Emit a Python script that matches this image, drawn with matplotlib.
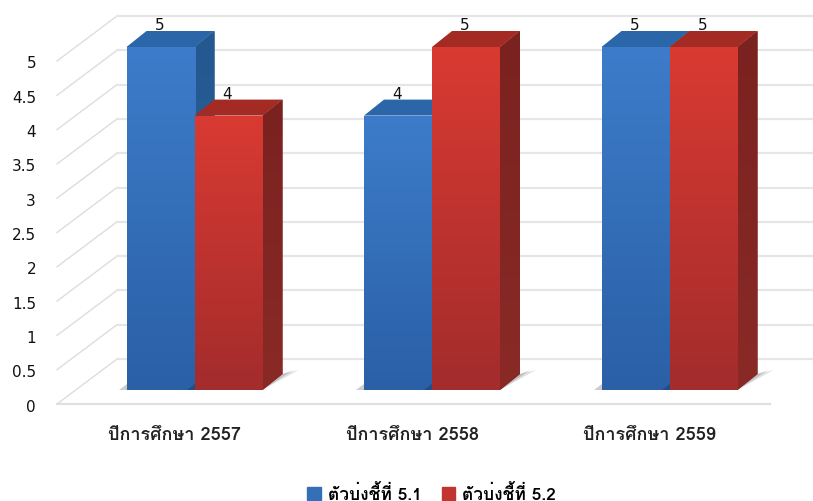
import matplotlib
matplotlib.use("Agg")
import numpy as np
import matplotlib.pyplot as plt
from matplotlib import font_manager as fm
from matplotlib.patches import Polygon, Patch
from matplotlib.colors import LinearSegmentedColormap

years = ["ปีการศึกษา 2557", "ปีการศึกษา 2558", "ปีการศึกษา 2559"]
series_names = ["ตัวบ่งชี้ที่ 5.1", "ตัวบ่งชี้ที่ 5.2"]
values_51 = [5, 4, 5]
values_52 = [4, 5, 5]
y_ticks = [0, 0.5, 1, 1.5, 2, 2.5, 3, 3.5, 4, 4.5, 5]
y_tick_labels = ["0", "0.5", "1", "1.5", "2", "2.5", "3", "3.5", "4", "4.5", "5"]

# pick a font holding Thai glyphs when there is one
thai = None
for f in fm.fontManager.ttflist:
    try:
        if 0x0E01 in fm.get_font(f.fname).get_charmap():
            thai = f.name
            break
    except Exception:
        pass
families = ([thai] if thai else []) + ["DejaVu Sans"]
plt.rcParams["font.family"] = families

W, H = 813, 501
fig = plt.figure(figsize=(W / 100, H / 100), dpi=100)
ax = fig.add_axes([0, 0, 1, 1])
px_x = 237.5   # pixels per category
px_y = 68.6    # pixels per value unit
x0_px, y0_px = 194.5, 359.0
xlim = (-x0_px / px_x, (W - x0_px) / px_x)
ylim = ((y0_px - H) / px_y, y0_px / px_y)

dx = 20 / px_x      # bar depth
dy = 16 / px_y
bw = 68 / px_x      # bar width
base = -31 / px_y   # bar foot relative to the back wall
fx = 60 / px_x      # wall-to-front shift of the chart floor
fy = 45 / px_y
left_wall = (117 - x0_px) / px_x
right_wall = (812 - x0_px) / px_x

# gridlines on wall and side
for v in y_ticks:
    ax.plot([left_wall - fx, left_wall], [v - fy, v], color="#dddddd", lw=1.0, zorder=1)
    ax.plot([left_wall, right_wall], [v, v], color="#e6e6e6", lw=1.6, zorder=1)
ax.plot([left_wall - fx, (770 - x0_px) / px_x], [-fy, -fy], color="#e0e0e0", lw=1.6, zorder=1)

for v, lab in zip(y_ticks, y_tick_labels):
    ax.text((36 - x0_px) / px_x, v - fy - 3 / px_y, lab, ha="right", va="center",
            fontsize=11, color="#111111", family="DejaVu Sans")


def bar3d(xc, v, top_c, bot_c, side_c, side_dark, lid_c, z):
    l, r = xc - bw / 2, xc + bw / 2
    b, t = base, base + v
    # soft floor shadow, built from nested shapes
    for k, a in zip([1.0, 0.85, 0.7, 0.55], [0.12, 0.15, 0.18, 0.2]):
        ax.add_patch(Polygon([(r, b), (r + k * 36 / px_x, b + 20 / px_y), (r + dx, b + dy)],
                             closed=True, fc="#000000", alpha=a, ec="none", zorder=z - 0.5))
    ax.add_patch(Polygon([(l - 8 / px_x, b), (l, b), (l, b + 6 / px_y)], closed=True,
                         fc="#000000", alpha=0.2, ec="none", zorder=z - 0.5))
    side = Polygon([(r, b), (r + dx, b + dy), (r + dx, t + dy), (r, t)], closed=True,
                   fc=side_c, ec="none", zorder=z)
    ax.add_patch(side)
    im = ax.imshow(np.linspace(1, 0, 256).reshape(-1, 1), aspect="auto",
                   extent=(r, r + dx, b, t + dy), zorder=z, origin="lower",
                   cmap=LinearSegmentedColormap.from_list("s", [side_c, side_dark]))
    im.set_clip_path(side)
    ax.add_patch(Polygon([(l, t), (l + dx, t + dy), (r + dx, t + dy), (r, t)], closed=True,
                         fc=lid_c, ec="none", zorder=z))
    rect = ax.bar(xc, v, width=bw, bottom=b, color=top_c, zorder=z + 0.1)[0]
    im2 = ax.imshow(np.linspace(0, 1, 256).reshape(-1, 1), aspect="auto",
                    extent=(l, r, b, t), zorder=z + 0.2, origin="lower",
                    cmap=LinearSegmentedColormap.from_list("f", [bot_c, top_c]))
    im2.set_clip_path(rect)


positions = np.arange(len(years))
for i in positions:
    bar3d(i - bw / 2, values_51[i], "#3d7cca", "#2a60a6", "#24588f", "#2a639f", "#2b66a8", 3)
    bar3d(i + bw / 2, values_52[i], "#d93a32", "#a32c2c", "#7a2220", "#8a2a26", "#a42a24", 4)
    ax.text(i - bw / 2 - 1 / px_x, base + values_51[i] + dy - 2 / px_y, str(values_51[i]), ha="center",
            va="bottom", fontsize=11, color="#111111", zorder=6, family="DejaVu Sans")
    ax.text(i + bw / 2 - 1 / px_x, base + values_52[i] + dy - 2 / px_y, str(values_52[i]), ha="center",
            va="bottom", fontsize=11, color="#111111", zorder=6, family="DejaVu Sans")
    ax.text(i - 20 / px_x, (y0_px - 435) / px_y, years[i], ha="center", va="center",
            fontsize=13, fontweight="bold", color="#222222")

handles = [Patch(fc="#3470b8", ec="#3470b8"), Patch(fc="#c23430", ec="#c23430")]
ax.legend(handles, series_names, ncol=2, loc="center", frameon=False,
          bbox_to_anchor=(431.5 / W, 1 - 493 / H), handlelength=0.8,
          handleheight=0.8, handletextpad=0.4, columnspacing=1.15, borderpad=0,
          prop={"weight": "bold", "size": 12.5, "family": families})

ax.set_xlim(*xlim)
ax.set_ylim(*ylim)
ax.axis("off")
fig.savefig("out.png", dpi=100)
